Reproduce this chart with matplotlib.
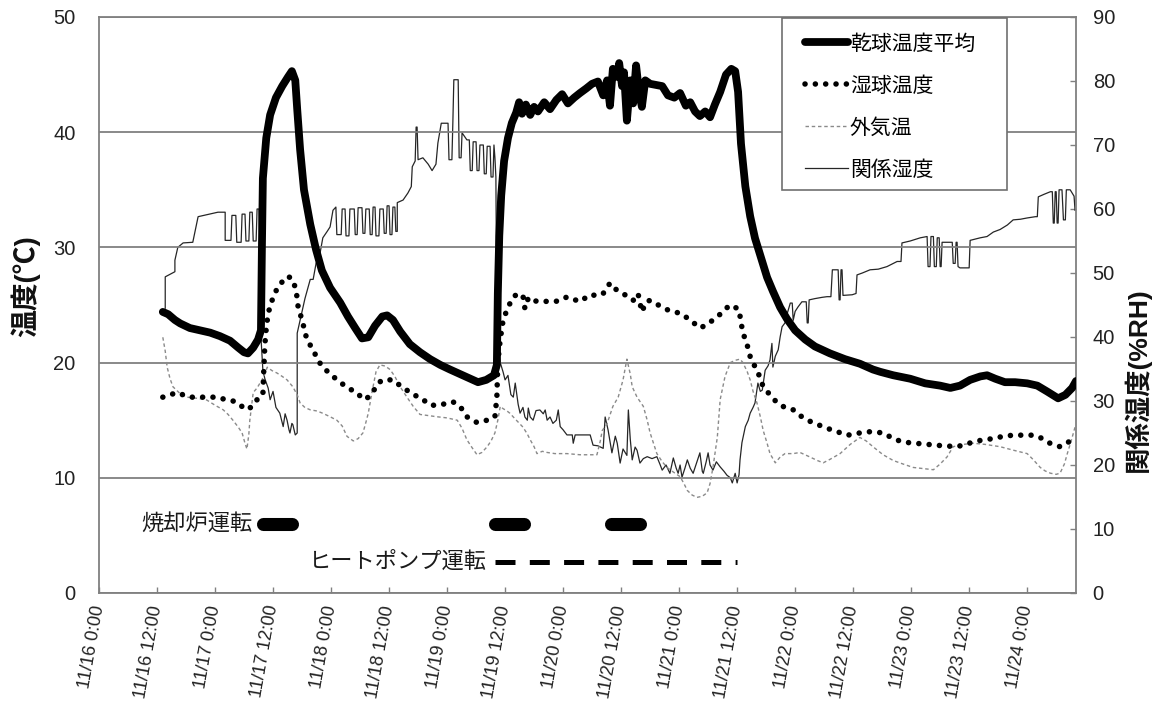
import matplotlib
matplotlib.use("Agg")
import matplotlib.pyplot as plt
from matplotlib.lines import Line2D
from matplotlib.patches import Rectangle

plt.rcParams['font.family'] = ['Liberation Sans', 'Noto Sans CJK JP']

# Elapsed time is in hours from 11/16 0:00.
tick_hours = [0, 12, 24, 36, 48, 60, 72, 84, 96, 108, 120, 132, 144, 156, 168, 180, 192]
tick_labels = ['11/16 0:00', '11/16 12:00', '11/17 0:00', '11/17 12:00', '11/18 0:00',
               '11/18 12:00', '11/19 0:00', '11/19 12:00', '11/20 0:00', '11/20 12:00',
               '11/21 0:00', '11/21 12:00', '11/22 0:00', '11/22 12:00', '11/23 0:00',
               '11/23 12:00', '11/24 0:00']
temp_ticks = [0, 10, 20, 30, 40, 50]
rh_ticks = [0, 10, 20, 30, 40, 50, 60, 70, 80, 90]

# (hour, degC) - dry-bulb average
dry_bulb = [(13.2, 24.4), (14.3, 24.2), (15.7, 23.7), (16.8, 23.4), (18.8, 23.0), (20.9, 22.8),
            (23.0, 22.6), (25.0, 22.3), (27.1, 21.9), (28.8, 21.3), (30.0, 20.9), (30.8, 20.8),
            (31.9, 21.3), (32.9, 22.0), (33.5, 22.8), (33.7, 30.0), (33.9, 36.0), (34.6, 39.5),
            (35.4, 41.5), (36.6, 43.0), (37.9, 44.0), (39.1, 44.8), (39.9, 45.3), (40.6, 44.5),
            (41.0, 42.0), (41.6, 38.5), (42.4, 35.0), (43.7, 32.0), (44.9, 29.8), (46.1, 28.0),
            (47.8, 26.5), (49.9, 25.2), (51.5, 24.0), (53.0, 23.0), (54.4, 22.1), (55.7, 22.2),
            (57.1, 23.2), (58.6, 24.0), (59.6, 24.1), (60.8, 23.7), (62.3, 22.7), (64.3, 21.6),
            (66.4, 20.9), (68.5, 20.3), (70.6, 19.8), (72.6, 19.4), (74.7, 19.0), (76.8, 18.6),
            (78.4, 18.3), (80.1, 18.5), (81.7, 18.9), (82.3, 19.8), (82.5, 26.0), (82.8, 31.0),
            (83.2, 34.5), (83.8, 37.5), (84.6, 39.5), (85.4, 40.8), (86.3, 41.7), (86.9, 42.6),
            (87.5, 41.6), (88.3, 42.4), (89.2, 41.5), (90.0, 42.2), (90.8, 41.8), (92.1, 42.6),
            (93.3, 42.0), (94.6, 42.8), (95.8, 43.3), (97.0, 42.5), (98.3, 43.0), (99.5, 43.4),
            (100.8, 43.8), (102.0, 44.2), (103.2, 44.4), (104.3, 43.2), (105.1, 44.5), (105.7, 42.3),
            (106.3, 45.5), (107.2, 44.8), (107.6, 46.0), (108.2, 44.0), (108.6, 45.2), (109.2, 41.0),
            (109.9, 44.5), (110.5, 42.5), (111.1, 45.8), (111.7, 43.5), (112.3, 42.2), (113.0, 44.5),
            (114.0, 44.2), (115.2, 44.1), (116.5, 44.0), (117.7, 43.2), (119.0, 43.0), (120.2, 43.4),
            (121.4, 42.3), (122.3, 42.6), (123.3, 41.8), (124.3, 41.4), (125.4, 41.8), (126.4, 41.3),
            (127.4, 42.4), (128.5, 43.5), (129.7, 45.0), (130.8, 45.5), (131.6, 45.3), (132.2, 43.5),
            (132.8, 39.0), (133.7, 35.3), (134.7, 32.7), (135.7, 30.8), (136.8, 29.3), (138.2, 27.4),
            (139.4, 26.2), (140.9, 24.8), (142.3, 23.8), (144.0, 22.8), (146.1, 22.0), (148.1, 21.4),
            (151.2, 20.8), (154.3, 20.3), (157.4, 19.9), (160.1, 19.4), (161.6, 19.2), (164.3, 18.9),
            (167.8, 18.6), (170.9, 18.2), (174.0, 18.0), (176.1, 17.8), (178.1, 18.0), (180.2, 18.5),
            (182.3, 18.8), (183.7, 18.9), (185.4, 18.6), (187.4, 18.3), (189.5, 18.3), (192.0, 18.2),
            (194.1, 18.0), (196.1, 17.5), (198.4, 16.9), (199.9, 17.2), (201.3, 17.8), (202.1, 18.4)]

# (hour, degC) - wet-bulb temperature
wet_bulb = [(13.2, 17.0), (14.7, 17.2), (16.1, 17.4), (17.4, 17.2), (18.8, 17.0), (20.9, 17.0),
            (23.0, 17.0), (24.4, 17.0), (26.1, 16.8), (27.5, 16.7), (28.8, 16.5), (29.8, 16.1),
            (30.6, 15.9), (31.7, 16.2), (32.9, 16.9), (33.9, 17.2), (34.1, 19.5), (34.3, 21.5),
            (34.6, 23.0), (35.0, 24.3), (35.8, 25.4), (37.0, 26.6), (38.1, 27.1), (39.1, 27.5),
            (40.1, 27.2), (40.8, 26.2), (41.2, 24.8), (42.0, 23.7), (43.0, 22.0), (44.3, 21.1),
            (45.3, 20.2), (46.3, 19.6), (48.4, 18.8), (50.5, 18.1), (51.9, 17.7), (53.4, 17.4),
            (54.6, 16.8), (55.4, 16.9), (56.5, 17.3), (57.5, 18.1), (58.6, 18.5), (59.6, 18.5),
            (60.8, 18.5), (62.3, 18.0), (63.7, 17.6), (65.0, 17.2), (66.4, 17.0), (68.5, 16.3),
            (70.6, 16.3), (72.0, 16.5), (73.2, 16.6), (74.7, 16.2), (76.1, 15.3), (77.2, 15.0),
            (78.2, 14.8), (79.2, 14.9), (80.3, 15.0), (81.3, 15.2), (81.9, 15.3), (82.3, 17.0),
            (82.5, 20.0), (83.0, 22.0), (83.6, 23.7), (84.6, 24.8), (85.7, 25.7), (86.7, 26.0),
            (87.7, 25.8), (88.1, 24.7), (88.8, 25.6), (89.8, 25.3), (91.2, 25.4), (92.7, 25.3),
            (94.3, 25.3), (95.4, 25.4), (96.8, 25.7), (98.1, 25.5), (99.5, 25.3), (101.6, 25.9),
            (103.2, 25.8), (104.3, 26.0), (105.7, 26.9), (106.8, 26.4), (107.8, 26.1), (109.2, 25.8),
            (110.5, 25.4), (111.5, 26.0), (112.3, 24.4), (113.2, 25.3), (114.0, 25.4), (115.7, 25.0),
            (117.5, 24.6), (118.8, 24.4), (120.2, 24.3), (122.3, 23.7), (124.3, 23.0), (125.8, 23.3),
            (127.0, 23.7), (128.5, 24.2), (129.7, 24.7), (130.6, 25.0), (131.6, 24.8), (132.4, 24.6),
            (132.8, 23.5), (133.2, 22.6), (134.1, 21.5), (134.9, 20.2), (136.1, 19.4), (137.4, 17.9),
            (138.8, 17.2), (140.3, 16.5), (141.9, 16.1), (143.6, 15.9), (145.0, 15.4), (147.1, 14.9),
            (148.8, 14.6), (150.6, 14.3), (152.7, 14.0), (154.8, 13.7), (156.4, 13.8), (157.4, 13.9),
            (159.5, 14.0), (162.2, 13.9), (164.3, 13.4), (166.3, 13.1), (168.8, 13.0), (171.3, 12.9),
            (174.0, 12.8), (177.5, 12.7), (179.2, 12.9), (180.8, 13.1), (182.9, 13.3), (185.0, 13.4),
            (187.0, 13.6), (189.1, 13.7), (191.2, 13.7), (193.2, 13.7), (194.7, 13.5), (196.1, 13.1),
            (197.4, 12.9), (198.8, 12.7), (200.3, 13.0), (201.5, 13.5), (202.1, 13.6)]

# (hour, degC) - outdoor air temperature
outdoor = [(13.2, 22.2), (13.7, 21.0), (14.1, 19.6), (14.7, 18.6), (15.3, 17.9), (16.8, 17.3),
           (18.2, 17.0), (20.3, 16.9), (22.3, 16.75), (24.0, 16.3), (25.7, 15.9), (26.7, 15.5),
           (27.7, 15.0), (28.8, 14.4), (29.6, 13.9), (30.2, 13.0), (30.6, 12.5), (31.0, 13.8),
           (31.2, 15.0), (31.9, 17.4), (32.7, 17.8), (33.7, 18.5), (34.3, 19.0), (34.8, 19.6),
           (35.8, 19.3), (36.8, 19.1), (37.9, 18.8), (38.9, 18.5), (40.1, 17.9), (41.0, 17.2),
           (41.6, 16.5), (42.6, 16.1), (43.7, 15.9), (45.1, 15.8), (46.3, 15.6), (47.8, 15.3),
           (49.2, 15.0), (50.3, 14.5), (51.3, 13.6), (52.6, 13.2), (53.6, 13.4), (54.6, 13.9),
           (55.2, 14.8), (55.7, 15.6), (56.5, 17.5), (57.3, 19.2), (58.1, 19.8), (59.2, 19.7),
           (60.2, 19.4), (61.2, 18.8), (62.3, 17.9), (63.7, 17.0), (65.0, 16.2), (66.4, 15.5),
           (68.1, 15.4), (69.9, 15.3), (72.0, 15.2), (74.1, 15.0), (75.1, 14.3), (76.1, 13.3),
           (77.2, 12.6), (78.2, 12.0), (79.2, 12.2), (80.3, 12.7), (81.1, 13.2), (81.9, 13.9),
           (82.5, 15.0), (83.0, 16.2), (83.6, 16.0), (84.4, 15.8), (85.0, 15.6), (86.1, 15.1),
           (87.7, 14.4), (88.6, 13.8), (89.2, 13.3), (90.0, 12.7), (90.6, 12.1), (91.7, 12.3),
           (92.7, 12.2), (94.3, 12.1), (96.8, 12.1), (99.5, 12.0), (101.6, 12.0), (103.0, 12.0),
           (103.7, 13.2), (104.1, 14.1), (105.1, 14.7), (106.3, 16.2), (107.4, 17.0), (108.4, 18.5),
           (109.2, 20.3), (109.9, 19.0), (110.3, 17.9), (111.3, 17.0), (112.6, 16.2), (113.4, 15.0),
           (114.0, 13.9), (115.4, 12.1), (116.5, 11.4), (117.5, 10.9), (118.8, 10.5), (120.2, 10.1),
           (121.0, 9.5), (121.7, 8.9), (122.7, 8.5), (123.7, 8.3), (124.8, 8.4), (125.8, 8.7),
           (126.4, 9.5), (127.0, 10.9), (127.9, 13.5), (128.5, 16.8), (129.5, 18.8), (130.6, 20.0),
           (131.6, 20.2), (132.6, 20.3), (133.2, 20.0), (134.1, 19.2), (134.7, 18.5), (135.3, 17.5),
           (136.1, 16.5), (136.8, 15.3), (137.4, 14.1), (138.2, 13.0), (138.8, 12.1), (139.9, 11.3),
           (140.9, 11.8), (141.9, 12.1), (143.6, 12.1), (145.0, 12.2), (147.1, 11.8), (148.6, 11.5),
           (149.8, 11.3), (151.2, 11.6), (153.3, 12.1), (155.4, 12.9), (157.4, 13.5), (158.7, 13.2),
           (160.1, 12.7), (162.2, 12.0), (164.3, 11.5), (166.3, 11.2), (168.4, 10.9), (170.5, 10.8),
           (172.6, 10.7), (174.0, 11.2), (175.4, 11.8), (176.7, 12.7), (178.8, 12.9), (180.8, 13.0),
           (183.3, 12.9), (186.4, 12.7), (189.1, 12.4), (192.0, 12.1), (193.2, 11.6), (194.7, 10.9),
           (195.7, 10.6), (196.8, 10.4), (198.0, 10.3), (198.8, 10.4), (199.7, 11.2), (200.3, 12.1),
           (201.1, 13.2), (201.9, 14.4)]

# (hour, %RH) - relative humidity, right axis
rel_humidity = [
    (13.7, 44.5), (13.7, 49.4), (15.7, 50.2), (15.7, 52.0), (16.3, 54.0), (17.4, 54.7), (19.4, 54.8),
    (20.5, 58.8), (23.4, 59.3), (24.6, 59.5), (26.1, 59.5), (26.1, 55.1), (27.3, 55.1), (27.5, 59.0),
    (28.3, 59.0), (28.5, 54.8), (29.4, 54.8), (29.6, 59.2), (30.2, 59.2), (30.4, 55.0), (31.0, 55.0),
    (31.2, 59.5), (31.7, 59.5), (31.9, 55.0), (32.5, 55.0), (32.7, 60.0), (33.1, 60.0), (33.3, 54.0),
    (33.5, 40.0), (33.9, 34.8), (34.3, 33.5), (35.0, 32.0), (35.4, 30.2), (36.0, 31.5), (36.6, 29.0),
    (37.4, 28.1), (38.1, 26.0), (38.5, 28.0), (38.9, 27.0), (39.3, 25.5), (39.5, 25.0), (39.9, 26.5),
    (40.1, 26.3), (40.6, 24.7), (41.0, 25.0), (41.0, 40.6), (41.6, 42.6), (42.6, 46.0), (43.7, 49.0),
    (44.3, 49.0), (44.9, 51.5), (45.7, 53.0), (46.3, 55.5), (47.2, 56.5), (47.8, 57.2), (48.4, 59.8),
    (49.0, 60.3), (49.2, 56.0), (50.1, 56.0), (50.3, 60.0), (50.9, 60.0), (51.1, 55.8), (51.7, 55.8),
    (51.9, 60.0), (52.8, 60.0), (53.0, 56.0), (53.4, 56.0), (53.6, 60.2), (54.4, 60.2), (54.6, 56.2),
    (55.0, 56.2), (55.2, 60.0), (55.9, 60.0), (56.1, 56.0), (56.5, 56.0), (56.7, 60.3), (57.1, 60.3),
    (57.3, 55.8), (57.9, 55.8), (58.1, 60.0), (58.8, 60.0), (59.0, 56.2), (59.4, 56.2), (59.6, 60.5),
    (60.0, 60.5), (60.2, 56.0), (60.6, 56.0), (60.8, 60.3), (61.2, 60.3), (61.4, 56.5), (61.7, 56.5),
    (61.7, 61.0), (62.9, 61.4), (63.9, 62.5), (64.6, 63.5), (64.8, 66.6), (65.4, 67.5), (65.6, 72.8),
    (65.8, 72.8), (66.0, 67.7), (67.0, 68.0), (68.1, 67.0), (68.9, 66.0), (69.7, 67.0), (70.1, 70.3),
    (70.8, 73.4), (72.2, 73.4), (72.4, 67.7), (73.0, 67.7), (73.2, 73.6), (73.4, 80.2), (74.3, 80.2),
    (74.5, 68.0), (74.9, 68.0), (75.1, 71.9), (76.1, 70.8), (76.6, 70.8), (76.8, 66.0), (77.2, 66.0),
    (77.4, 70.5), (78.0, 70.5), (78.2, 66.0), (78.6, 66.0), (78.8, 70.0), (79.5, 70.0), (79.7, 65.5),
    (80.1, 65.5), (80.3, 69.8), (80.9, 69.8), (81.1, 65.0), (81.5, 65.0), (81.7, 70.0), (81.9, 68.0),
    (82.1, 65.0), (82.3, 40.0), (83.0, 36.0), (83.6, 34.5), (84.0, 33.3), (84.6, 34.0), (85.2, 31.0),
    (85.7, 30.6), (86.1, 32.8), (86.7, 29.5), (87.1, 28.1), (87.7, 29.0), (88.1, 27.5), (88.6, 27.0),
    (88.8, 28.9), (89.2, 27.5), (89.8, 27.0), (90.4, 28.5), (91.2, 28.6), (91.9, 28.0), (92.3, 28.6),
    (92.7, 27.0), (93.3, 27.5), (93.9, 26.5), (94.6, 27.0), (95.0, 28.6), (95.4, 26.0), (96.0, 25.5),
    (96.8, 24.7), (97.9, 24.7), (98.1, 23.4), (98.5, 24.7), (98.9, 24.7), (101.6, 24.7), (102.2, 23.1),
    (103.2, 23.0), (104.3, 22.6), (104.7, 27.5), (105.3, 25.5), (106.1, 21.9), (106.8, 24.5),
    (107.2, 23.4), (107.8, 20.3), (108.4, 22.5), (109.2, 21.5), (109.5, 28.6), (109.9, 24.0),
    (110.3, 20.8), (110.9, 22.8), (111.3, 22.3), (111.9, 20.3), (112.6, 21.0), (113.4, 21.3),
    (114.4, 21.0), (115.4, 21.3), (116.1, 20.0), (116.5, 19.2), (117.3, 20.0), (118.1, 18.7),
    (118.8, 21.1), (119.4, 19.5), (119.8, 18.7), (120.2, 20.0), (120.6, 18.1), (121.2, 19.5),
    (121.7, 20.8), (122.3, 19.5), (122.9, 18.7), (123.7, 20.5), (124.3, 21.9), (124.8, 19.0),
    (125.0, 18.7), (125.6, 20.5), (126.0, 21.9), (126.4, 20.0), (127.0, 19.2), (127.7, 20.5),
    (128.5, 19.7), (129.3, 19.0), (129.9, 18.4), (130.6, 18.0), (131.0, 17.2), (131.6, 18.7),
    (132.0, 17.2), (132.4, 18.5), (132.6, 20.8), (133.0, 23.5), (133.7, 26.0), (134.3, 27.0),
    (134.7, 28.1), (135.3, 29.0), (135.7, 29.7), (136.3, 32.8), (136.8, 31.5), (137.2, 31.7),
    (137.8, 34.8), (138.4, 35.5), (138.8, 36.4), (139.2, 39.0), (139.4, 35.3), (139.9, 37.0),
    (140.5, 38.0), (140.9, 40.0), (141.3, 41.6), (141.9, 42.2), (142.3, 43.5), (143.0, 45.3),
    (143.4, 45.3), (143.6, 42.6), (144.0, 44.0), (144.6, 44.7), (145.4, 45.5), (146.3, 45.5),
    (146.5, 42.2), (146.7, 42.2), (146.9, 45.8), (148.1, 46.0), (149.6, 46.2), (150.6, 46.3),
    (151.4, 46.3), (151.7, 50.5), (152.9, 50.5), (153.1, 45.8), (153.3, 45.8), (153.5, 50.5),
    (153.7, 50.5), (153.9, 46.5), (155.8, 46.6), (156.6, 46.8), (156.8, 49.7), (157.9, 50.0),
    (159.5, 50.5), (161.2, 50.6), (163.0, 51.0), (165.1, 51.8), (165.9, 51.8), (166.1, 54.7),
    (167.8, 55.0), (169.9, 55.5), (171.3, 55.7), (171.5, 51.0), (171.9, 51.0), (172.1, 55.7),
    (172.6, 55.7), (172.8, 51.0), (173.2, 51.0), (173.4, 55.5), (173.8, 55.5), (174.0, 51.0),
    (174.2, 51.0), (174.4, 54.8), (176.5, 54.8), (176.7, 51.5), (177.1, 51.5), (177.3, 54.8),
    (177.5, 54.8), (177.7, 51.0), (178.1, 50.8), (180.0, 50.8), (180.2, 55.1), (182.3, 55.5),
    (183.7, 55.7), (185.0, 56.4), (186.4, 56.8), (187.9, 57.5), (189.1, 58.3), (190.6, 58.4),
    (192.0, 58.6), (193.7, 58.8), (194.1, 58.8), (194.3, 61.9), (195.5, 62.3), (196.8, 62.7),
    (197.2, 62.7), (197.4, 57.8), (197.6, 57.8), (197.8, 62.7), (198.0, 62.7), (198.2, 57.8),
    (198.4, 57.8), (198.6, 63.0), (199.2, 63.0), (199.5, 58.3), (199.9, 58.3), (200.1, 63.0),
    (200.9, 63.0), (201.3, 62.5), (201.7, 62.0), (201.9, 59.8)]

# Equipment operating periods (start hour, end hour) and the level they are drawn at (degC)
furnace_periods = [(34, 40), (82, 88), (106, 112)]
furnace_level = 6
heatpump_period = (82, 132)
heatpump_level = 2.7

series_labels = ['乾球温度平均', '湿球温度', '外気温', '関係湿度']

GRID = '#808080'
dry_style = dict(color='black', lw=5.6, solid_capstyle='round', solid_joinstyle='round')
wet_style = dict(color='black', lw=4.0, linestyle=(0, (0.01, 1.85)), dash_capstyle='round')
out_style = dict(color='#8a8a8a', lw=1.0, linestyle=(0, (2.5, 2.0)))
rh_style = dict(color='#262626', lw=0.9)


def unzip(pairs):
    return [p[0] for p in pairs], [p[1] for p in pairs]


fig = plt.figure(figsize=(11.56, 7.02), dpi=100)
ax = fig.add_axes([99 / 1156, 1 - 593 / 702, 977 / 1156, 576 / 702])
ax2 = ax.twinx()
ax.set_zorder(ax2.get_zorder() + 1)
ax.patch.set_visible(False)

# humidity on the secondary axis
ax2.plot(*unzip(rel_humidity), **rh_style)

ax.plot(*unzip(outdoor), **out_style)
ax.plot(*unzip(wet_bulb), **wet_style)
ax.plot(*unzip(dry_bulb), **dry_style)

# operation bars
for start, end in furnace_periods:
    ax.plot([start, end], [furnace_level, furnace_level], color='black', lw=9.4,
            solid_capstyle='round')
ax.plot(list(heatpump_period), [heatpump_level, heatpump_level], color='black', lw=3.6,
        linestyle=(0, (4, 2.86)), dash_capstyle='butt')
ax.text(furnace_periods[0][0] - 2.3, furnace_level, '焼却炉運転', ha='right', va='center',
        fontsize=16, color='#1a1a1a')
ax.text(heatpump_period[0] - 1.7, heatpump_level, 'ヒートポンプ運転', ha='right', va='center',
        fontsize=16, color='#1a1a1a')

# axes limits, ticks, grid
ax.set_xlim(0, 202.1)
ax.set_ylim(0, 50)
ax2.set_ylim(0, 90)
ax.set_yticks(temp_ticks)
ax2.set_yticks(rh_ticks)
ax.set_xticks(tick_hours)
ax.set_xticklabels(tick_labels, rotation=80, ha='right', va='center', rotation_mode='anchor',
                   fontsize=13, color='#222222')
ax.yaxis.grid(True, color=GRID, lw=1.3)
ax.set_axisbelow(True)
ax.tick_params(axis='y', length=0, pad=17, labelsize=14.5, labelcolor='#222222')
ax.tick_params(axis='x', direction='in', length=4.5, width=1.0, color=GRID, pad=9)
ax2.tick_params(axis='y', direction='in', length=4.5, width=1.0, color=GRID, pad=12,
                labelsize=14.5, labelcolor='#222222')

for a in (ax, ax2):
    for s in a.spines.values():
        s.set_color(GRID)
        s.set_linewidth(1.3)
ax.spines['right'].set_visible(False)
ax2.spines['left'].set_visible(False)
ax2.spines['bottom'].set_visible(False)
ax2.spines['top'].set_visible(False)

# axis titles
fig.text(25 / 1156, 1 - 286 / 702, '温度(℃)', rotation=90, ha='center', va='center',
         fontsize=20, fontweight='bold', color='#111111')
fig.text(1137 / 1156, 1 - 380 / 702, '関係湿度(%RH)', rotation=90, ha='center', va='center',
         fontsize=19, fontweight='bold', color='#111111')

# legend with a separate frame
frame = Rectangle((782 / 1156, 1 - 190 / 702), 225 / 1156, 172 / 702, transform=fig.transFigure,
                  facecolor='white', edgecolor='#707070', lw=1.2, zorder=4.5)
ax.add_artist(frame)
handles = [Line2D([], [], **dry_style), Line2D([], [], **wet_style),
           Line2D([], [], **out_style), Line2D([], [], **rh_style)]
leg = ax.legend(handles, series_labels, loc='upper left', bbox_to_anchor=(805 / 1156, 1 - 34 / 702),
                bbox_transform=fig.transFigure, frameon=False, fontsize=15, handlelength=2.05,
                handletextpad=0.1, labelspacing=1.08, borderpad=0, borderaxespad=0)
leg.set_zorder(5)

fig.savefig('out.png', dpi=100)
